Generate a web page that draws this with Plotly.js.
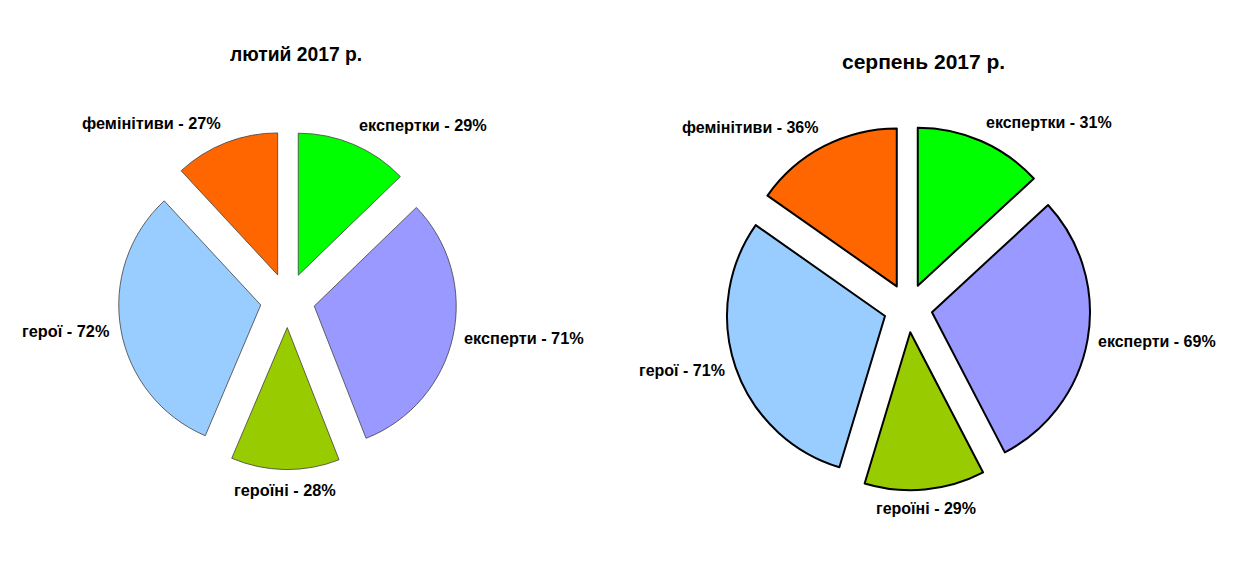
<!DOCTYPE html>
<html>
<head>
<meta charset="utf-8">
<script src="https://cdn.plot.ly/plotly-3.0.1.min.js"></script>
<style>html,body{margin:0;padding:0;background:#fff;}#chart{width:1238px;height:572px;}</style>
</head>
<body>
<div id="chart"></div>
<script>
const categories = ["експертки", "експерти", "героїні", "герої", "фемінітиви"];
const febValues = [29, 71, 28, 72, 27];
const augValues = [31, 69, 29, 71, 36];
const sliceColors = ["#00FF00", "#9999FF", "#99CC00", "#99CCFF", "#FF6600"];
const titles = ["лютий 2017 р.", "серпень 2017 р."];

const W = 1238, H = 572;
const FONT = "Liberation Sans, Arial, sans-serif";

// pie geometry (pixel centre, radius, pull fraction)
const pies = [
  {values: febValues, cx: 287.6, cy: 300.3, r: 142, pull: 0.192, line: {color: "#404040", width: 0.8},
   labelSize: 16.3, title: titles[0], tx: 296, ty: 55, tsize: 19.3},
  {values: augValues, cx: 908, cy: 308, r: 158, pull: 0.154, line: {color: "#000000", width: 2},
   labelSize: 16, title: titles[1], tx: 923, ty: 61, tsize: 21}
];

function dom(p) {
  const half = p.r * (1 + p.pull);
  return {x: [(p.cx - half) / W, (p.cx + half) / W], y: [1 - (p.cy + half) / H, 1 - (p.cy - half) / H]};
}

const traces = [];
const annotations = [];
pies.forEach(p => {
  traces.push({
    type: "pie", labels: categories, values: p.values, sort: false, direction: "clockwise", rotation: 0,
    pull: p.pull, domain: dom(p), textinfo: "none",
    marker: {colors: sliceColors, line: p.line},
    hoverinfo: "label+value", showlegend: false
  });
  annotations.push({text: p.title, x: p.tx / W, y: 1 - p.ty / H, xref: "paper", yref: "paper",
    xanchor: "center", yanchor: "middle", showarrow: false,
    font: {family: FONT, size: p.tsize, color: "#000", weight: "bold"}});
  // slice labels placed just outside each exploded slice, along its mid-angle
  const total = p.values.reduce((a, b) => a + b, 0);
  let cum = 0;
  const dist = p.r * (1 + p.pull) + 10;
  p.values.forEach((v, i) => {
    const mid = (cum + v / 2) / total * 2 * Math.PI;
    cum += v;
    const s = Math.sin(mid), c = Math.cos(mid);
    const px = p.cx + dist * s, py = p.cy - dist * c;
    annotations.push({
      text: categories[i] + " - " + v + "%", x: px / W, y: 1 - py / H, xref: "paper", yref: "paper",
      xanchor: s > 0.25 ? "left" : (s < -0.25 ? "right" : "center"),
      yanchor: c > 0.5 ? "bottom" : (c < -0.5 ? "top" : "middle"),
      showarrow: false, borderpad: 0,
      font: {family: FONT, size: p.labelSize, color: "#000", weight: "bold"}
    });
  });
});

const layout = {
  width: W, height: H, margin: {l: 0, r: 0, t: 0, b: 0},
  paper_bgcolor: "#fff", plot_bgcolor: "#fff", showlegend: false,
  annotations: annotations
};
Plotly.newPlot("chart", traces, layout, {displayModeBar: false, staticPlot: true});
</script>
</body>
</html>
